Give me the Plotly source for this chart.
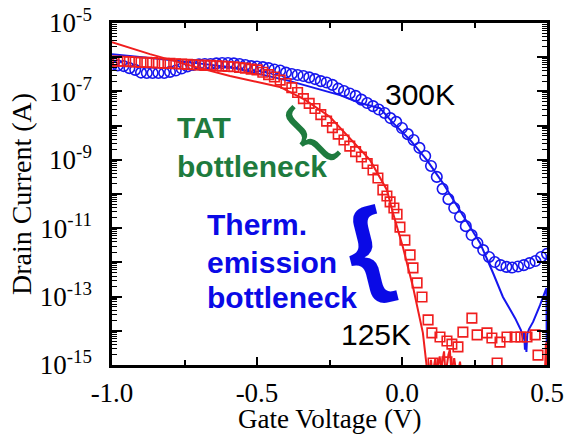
import plotly.graph_objects as go

# ---------------- data ----------------
# 300 K measured (open circles): gate voltage (V) and log10 drain current (A)
v_300k = [-1.00, -0.98, -0.96, -0.94, -0.92, -0.90, -0.88, -0.86, -0.84, -0.82,
          -0.80, -0.78, -0.76, -0.74, -0.72, -0.70, -0.68, -0.66, -0.64, -0.62,
          -0.60, -0.58, -0.56, -0.54, -0.52, -0.50, -0.48, -0.46, -0.44, -0.42,
          -0.40, -0.38, -0.36, -0.34, -0.32, -0.30, -0.28, -0.26, -0.24, -0.22,
          -0.20, -0.18, -0.16, -0.14, -0.12, -0.10, -0.08, -0.06, -0.04, -0.02,
          0.00, 0.02, 0.04, 0.06, 0.08, 0.10, 0.12, 0.14, 0.16, 0.18,
          0.20, 0.22, 0.24, 0.26, 0.28, 0.30, 0.32, 0.34, 0.36, 0.38,
          0.40, 0.42, 0.44, 0.46, 0.48, 0.50]
log_i_300k = [-6.23, -6.24, -6.26, -6.32, -6.37, -6.45, -6.46, -6.46, -6.46, -6.46,
              -6.43, -6.39, -6.33, -6.27, -6.23, -6.21, -6.20, -6.20, -6.18, -6.17,
              -6.17, -6.18, -6.20, -6.23, -6.26, -6.27, -6.29, -6.32, -6.36, -6.39,
              -6.45, -6.49, -6.52, -6.55, -6.59, -6.64, -6.70, -6.74, -6.81, -6.92,
              -6.99, -7.06, -7.13, -7.24, -7.34, -7.43, -7.53, -7.63, -7.78, -7.89,
              -8.07, -8.25, -8.42, -8.65, -8.89, -9.18, -9.50, -9.85, -10.15, -10.41,
              -10.67, -10.94, -11.20, -11.43, -11.64, -11.84, -11.99, -12.08, -12.13, -12.15,
              -12.12, -12.08, -12.02, -11.96, -11.84, -11.75]

# 300 K simulation (solid blue line)
v_300k_fit = [-1.00, -0.80, -0.593, -0.386, -0.214, -0.145, -0.076, -0.031, 0.028, 0.086,
              0.141, 0.200, 0.269, 0.314, 0.348, 0.390, 0.410, 0.418, 0.421, 0.424,
              0.427, 0.429, 0.432, 0.438, 0.452, 0.476, 0.494, 0.498, 0.500]
log_i_300k_fit = [-5.91, -6.08, -6.29, -6.70, -7.11, -7.34, -7.49, -7.92, -8.42, -9.01,
                  -9.68, -10.47, -11.43, -12.31, -13.01, -13.63, -13.98, -14.25, -14.05, -14.55,
                  -14.15, -14.62, -14.10, -13.95, -13.74, -13.25, -12.87, -12.75, -16.0]

# 125 K measured (open squares)
v_125k = [-1.00, -0.98, -0.96, -0.94, -0.92, -0.90, -0.88, -0.86, -0.84, -0.82,
          -0.80, -0.78, -0.76, -0.74, -0.72, -0.70, -0.68, -0.66, -0.64, -0.62,
          -0.60, -0.58, -0.56, -0.54, -0.52, -0.50, -0.48, -0.46, -0.44, -0.42,
          -0.40, -0.38, -0.36, -0.34, -0.32, -0.30, -0.28, -0.26, -0.24, -0.22,
          -0.20, -0.18, -0.16, -0.14, -0.12, -0.100, -0.083, -0.066, -0.052, -0.041,
          -0.028, -0.017, -0.007, 0.010, 0.028, 0.038, 0.052, 0.069, 0.090, 0.103,
          0.107, 0.131, 0.155, 0.155, 0.172, 0.193, 0.210, 0.241, 0.259, 0.293,
          0.310, 0.328, 0.338, 0.362, 0.390, 0.410, 0.431, 0.459, 0.469]
log_i_125k = [-6.11, -6.12, -6.12, -6.13, -6.14, -6.15, -6.15, -6.16, -6.17, -6.18,
              -6.18, -6.19, -6.20, -6.21, -6.22, -6.23, -6.24, -6.24, -6.25, -6.26,
              -6.27, -6.28, -6.30, -6.32, -6.35, -6.37, -6.44, -6.51, -6.58, -6.67,
              -6.77, -6.89, -7.03, -7.21, -7.35, -7.50, -7.68, -7.87, -8.06, -8.25,
              -8.42, -8.60, -8.76, -8.92, -9.11, -9.30, -9.53, -9.88, -10.06, -10.23,
              -10.41, -10.59, -10.97, -11.35, -11.78, -12.16, -12.60, -13.01, -13.68, -14.06,
              -14.94, -14.18, -14.30, -14.91, -14.39, -14.47, -14.04, -13.63, -14.12, -14.06,
              -14.21, -14.94, -14.33, -14.18, -14.18, -14.18, -14.18, -14.12, -14.71]

# 125 K simulation (solid red line)
v_125k_fit = [-1.00, -0.869, -0.697, -0.593, -0.421, -0.334, -0.248, -0.179, -0.110, -0.052,
              -0.031, 0.003, 0.038, 0.072, 0.083, 0.090, 0.100, 0.105, 0.115, 0.120,
              0.130, 0.135, 0.145, 0.150, 0.160, 0.165, 0.170, 0.180, 0.190, 0.200,
              0.210, 0.250, 0.490, 0.496, 0.499, 0.500]
log_i_125k_fit = [-5.56, -5.91, -6.32, -6.55, -6.87, -7.25, -7.75, -8.39, -9.01, -9.88,
                  -10.56, -11.55, -12.72, -14.06, -15.00, -15.40, -14.85, -15.30, -14.80, -15.20,
                  -14.75, -15.10, -14.60, -15.30, -14.70, -14.55, -15.20, -14.80, -15.40, -14.90,
                  -15.60, -16.00, -16.00, -14.40, -14.35, -16.00]

x_tick_vals = [-1.0, -0.5, 0.0, 0.5]
x_tick_text = ["-1.0", "-0.5", "0.0", "0.5"]
x_minor_vals = [-0.75, -0.25, 0.25]
y_decades = [-5, -6, -7, -8, -9, -10, -11, -12, -13, -14, -15]

# ---------------- styling ----------------
RED = "#f01e1e"
BLUE = "#1616ee"
GREEN = "#1e7b3e"
TXT_BLUE = "#0a0ae6"

to_amp = lambda logs: [10 ** v for v in logs]

fig = go.Figure()
fig.add_trace(go.Scatter(x=v_300k, y=to_amp(log_i_300k), mode="markers",
                         marker=dict(symbol="circle-open", size=10.5, color=BLUE,
                                     line=dict(width=1.6, color=BLUE)),
                         name="300K data", cliponaxis=True))
fig.add_trace(go.Scatter(x=v_300k_fit, y=to_amp(log_i_300k_fit), mode="lines",
                         line=dict(color=BLUE, width=2), name="300K fit"))
fig.add_trace(go.Scatter(x=v_125k, y=to_amp(log_i_125k), mode="markers",
                         marker=dict(symbol="square-open", size=9.5, color=RED,
                                     line=dict(width=1.6, color=RED)),
                         name="125K data", cliponaxis=True))
fig.add_trace(go.Scatter(x=v_125k_fit, y=to_amp(log_i_125k_fit), mode="lines",
                         line=dict(color=RED, width=2), name="125K fit"))

y_tick_vals = [10 ** d for d in y_decades]
y_tick_text = [("10<sup>-%d</sup>" % (-d)) if d % 2 else "" for d in y_decades]
y_minor_vals = [k * 10 ** d for d in y_decades[1:] for k in range(2, 10)]

serif = "Liberation Serif"
fig.update_layout(
    width=573, height=441,
    margin=dict(l=112, r=26, t=23, b=76),
    paper_bgcolor="white", plot_bgcolor="white",
    showlegend=False,
    font=dict(family=serif, size=27, color="black"),
    xaxis=dict(range=[-1.0, 0.5], showgrid=False, zeroline=False, automargin=False,
               showline=True, linecolor="black", linewidth=2.5, mirror="allticks",
               ticks="inside", ticklen=8, tickwidth=1.6, tickcolor="black",
               tickmode="array", tickvals=x_tick_vals, ticktext=x_tick_text,
               tickfont=dict(family=serif, size=27), ticklabelstandoff=2,
               ticklabeloverflow="allow",
               minor=dict(tickmode="array", tickvals=x_minor_vals, ticks="inside",
                          ticklen=5, tickwidth=1.6, tickcolor="black")),
    yaxis=dict(type="log", range=[-15, -5], showgrid=False, zeroline=False, automargin=False,
               showline=True, linecolor="black", linewidth=2.5, mirror="allticks",
               ticks="inside", ticklen=10, tickwidth=1.6, tickcolor="black",
               tickmode="array", tickvals=y_tick_vals, ticktext=y_tick_text,
               tickfont=dict(family=serif, size=27), ticklabelstandoff=12,
               ticklabeloverflow="allow",
               minor=dict(tickmode="array", tickvals=y_minor_vals, ticks="inside",
                          ticklen=5, tickwidth=1.2, tickcolor="black"),
               title=dict(text="Drain Current (A)", font=dict(family=serif, size=28),
                          standoff=0)),
)

# x-axis title, placed tight under the tick labels as in the reference
fig.add_annotation(x=0.5, y=-0.158, xref="paper", yref="paper", text="Gate Voltage (V)",
                   showarrow=False, xanchor="center", yanchor="middle",
                   font=dict(family=serif, size=27, color="black"))

sans = "Liberation Sans"
def note(x, y, text, size, color, bold=False, xanchor="center", angle=0):
    fig.add_annotation(x=x, y=y, xref="x", yref="y", text=("<b>%s</b>" % text) if bold else text,
                       showarrow=False, xanchor=xanchor, yanchor="middle", textangle=angle,
                       font=dict(family=sans, size=size, color=color))

# y positions given in log10 units for log axis annotations
note(0.062, -7.10, "300K", 30, "black")
note(-0.090, -14.108, "125K", 30, "black")
note(-0.783, -8.05, "TAT", 30, GREEN, bold=True, xanchor="left")
note(-0.783, -9.19, "bottleneck", 30, GREEN, bold=True, xanchor="left")
note(-0.678, -10.88, "Therm.", 30, TXT_BLUE, bold=True, xanchor="left")
note(-0.678, -11.997, "emission", 30, TXT_BLUE, bold=True, xanchor="left")
note(-0.678, -13.02, "bottleneck", 30, TXT_BLUE, bold=True, xanchor="left")
note(-0.336, -8.202, "{", 74, GREEN, angle=-45)
note(-0.122, -11.55, "{", 106, TXT_BLUE, bold=True, angle=-14)

# remove the page's default 8 px body margin so the figure fills the window
fig.write_html("out.html", config={"displayModeBar": False},
               post_script="document.body.style.margin='0px';")
